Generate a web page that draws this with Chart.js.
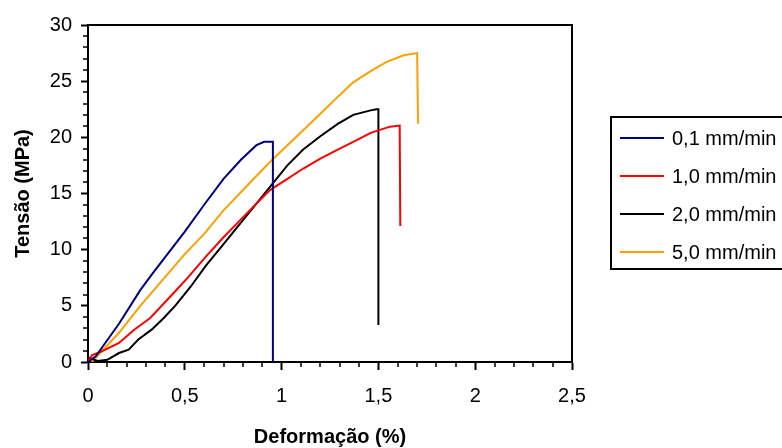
<!DOCTYPE html>
<html>
<head>
<meta charset="utf-8">
<script src="https://cdn.jsdelivr.net/npm/chart.js@4.4.1/dist/chart.umd.min.js"></script>
<style>
  html, body { margin: 0; padding: 0; background: #fff; overflow: hidden; }
  canvas { display: block; }
</style>
</head>
<body>
<canvas id="tensileChart" width="782" height="448"></canvas>
<script>
// values: deformation (%) vs stress (MPa)
const seriesLabels = ["0,1 mm/min", "1,0 mm/min", "2,0 mm/min", "5,0 mm/min"];
const seriesColors = ["#000080", "#FF0000", "#000000", "#FFA000"];

const blueX = [0, 0.04, 0.16, 0.27, 0.33, 0.50, 0.60, 0.70, 0.79, 0.87, 0.91, 0.95, 0.955, 0.955];
const blueY = [0, 0.5, 3.4, 6.4, 7.8, 11.6, 14.0, 16.3, 18.0, 19.3, 19.6, 19.6, 19.6, 0];

const redX = [0, 0.02, 0.05, 0.09, 0.16, 0.24, 0.32, 0.44, 0.52, 0.61, 0.70, 0.79, 0.87, 0.94, 1.03, 1.11, 1.20, 1.29, 1.37, 1.46, 1.56, 1.61, 1.613];
const redY = [0, 0.6, 0.8, 1.1, 1.7, 2.9, 3.9, 6.1, 7.6, 9.4, 11.1, 12.7, 14.1, 15.3, 16.3, 17.2, 18.1, 18.9, 19.6, 20.4, 20.95, 21.05, 12.1];

const blackX = [0, 0.05, 0.10, 0.16, 0.21, 0.26, 0.33, 0.39, 0.45, 0.53, 0.61, 0.70, 0.79, 0.87, 0.94, 1.03, 1.11, 1.20, 1.29, 1.37, 1.46, 1.49, 1.50, 1.50];
const blackY = [0.4, 0.1, 0.2, 0.8, 1.1, 2.0, 2.9, 3.9, 5.0, 6.7, 8.6, 10.5, 12.4, 14.1, 15.6, 17.5, 18.9, 20.1, 21.2, 22.0, 22.4, 22.5, 22.5, 3.3];

const orangeX = [0.02, 0.16, 0.27, 0.33, 0.50, 0.60, 0.70, 0.85, 0.94, 1.03, 1.11, 1.20, 1.29, 1.37, 1.46, 1.54, 1.63, 1.70, 1.705];
const orangeY = [0, 2.6, 5.0, 6.2, 9.6, 11.4, 13.5, 16.2, 17.8, 19.3, 20.6, 22.1, 23.6, 24.9, 25.9, 26.7, 27.3, 27.5, 21.2];

const xTicks = [0, 0.5, 1, 1.5, 2, 2.5];
const yTicks = [0, 5, 10, 15, 20, 25, 30];

const toPoints = (xs, ys) => xs.map((x, i) => ({ x: x, y: ys[i] }));
const allX = [blueX, redX, blackX, orangeX];
const allY = [blueY, redY, blackY, orangeY];

const comma = v => String(v).replace(".", ",");
const FONT = "'Liberation Sans', Arial, sans-serif";

// box, minor ticks and legend like the Excel original
const framePlugin = {
    id: "frame",
    afterDraw(chart) {
        const ctx = chart.ctx;
        const a = chart.chartArea;
        const xs = chart.scales.x, ys = chart.scales.y;
        ctx.save();
        ctx.strokeStyle = "#000";
        ctx.lineWidth = 2;
        ctx.beginPath();
        ctx.moveTo(a.left - 1, a.top);
        ctx.lineTo(a.right, a.top);
        ctx.lineTo(a.right, a.bottom);
        ctx.stroke();

        ctx.lineWidth = 1.5;
        ctx.beginPath();
        for (let i = 1; i < 25; i++) {
            if (i % 5 === 0) continue;
            const px = Math.round(xs.getPixelForValue(i / 10));
            ctx.moveTo(px, a.bottom);
            ctx.lineTo(px, a.bottom + 5);
        }
        for (let j = 1; j < 30; j++) {
            if (j % 5 === 0) continue;
            const py = Math.round(ys.getPixelForValue(j));
            ctx.moveTo(a.left - 5, py);
            ctx.lineTo(a.left, py);
        }
        ctx.stroke();

        // legend (its right side runs off the picture, as in the original)
        ctx.lineWidth = 2;
        ctx.beginPath();
        ctx.moveTo(800, 117);
        ctx.lineTo(611, 117);
        ctx.lineTo(611, 269);
        ctx.lineTo(800, 269);
        ctx.stroke();
        ctx.font = "20px " + FONT;
        ctx.textBaseline = "middle";
        ctx.textAlign = "left";
        chart.data.datasets.forEach((ds, i) => {
            const y = 138 + i * 38;
            ctx.strokeStyle = ds.borderColor;
            ctx.beginPath();
            ctx.moveTo(620, y);
            ctx.lineTo(664, y);
            ctx.stroke();
            ctx.fillStyle = "#000";
            ctx.fillText(ds.label, 672, y + 1);
        });
        ctx.restore();
    }
};

new Chart(document.getElementById("tensileChart"), {
    type: "line",
    data: {
        datasets: seriesLabels.map((label, i) => ({
            label: label,
            data: toPoints(allX[i], allY[i]),
            borderColor: seriesColors[i],
            borderWidth: 2,
            pointRadius: 0,
            tension: 0,
            fill: false
        }))
    },
    options: {
        responsive: false,
        animation: false,
        layout: { padding: { left: 0, right: 210, top: 25, bottom: 0 } },
        plugins: {
            legend: { display: false },
            tooltip: { enabled: false }
        },
        scales: {
            x: {
                type: "linear",
                min: 0,
                max: 2.5,
                afterBuildTicks: s => { s.ticks = xTicks.map(v => ({ value: v })); },
                afterFit: s => { s.height = 86; },
                ticks: {
                    callback: v => comma(v),
                    color: "#000",
                    font: { family: FONT, size: 20 },
                    padding: 14,
                    maxRotation: 0
                },
                grid: { drawOnChartArea: false, tickLength: 8, tickColor: "#000", tickWidth: 2 },
                border: { color: "#000", width: 2 },
                title: {
                    display: true,
                    text: "Deformação (%)",
                    color: "#000",
                    font: { family: FONT, size: 20, weight: "bold", lineHeight: 1.1 },
                    padding: { top: 0, bottom: 0 }
                }
            },
            y: {
                type: "linear",
                min: 0,
                max: 30,
                afterBuildTicks: s => { s.ticks = yTicks.map(v => ({ value: v })); },
                afterFit: s => { s.width = 88; },
                ticks: {
                    color: "#000",
                    font: { family: FONT, size: 20 },
                    padding: 9
                },
                grid: { drawOnChartArea: false, tickLength: 7, tickColor: "#000", tickWidth: 2 },
                border: { color: "#000", width: 2 },
                title: {
                    display: true,
                    text: "Tensão (MPa)",
                    color: "#000",
                    font: { family: FONT, size: 20, weight: "bold", lineHeight: 1.1 },
                    padding: { top: 12, bottom: 0 }
                }
            }
        }
    },
    plugins: [framePlugin]
});
</script>
</body>
</html>
